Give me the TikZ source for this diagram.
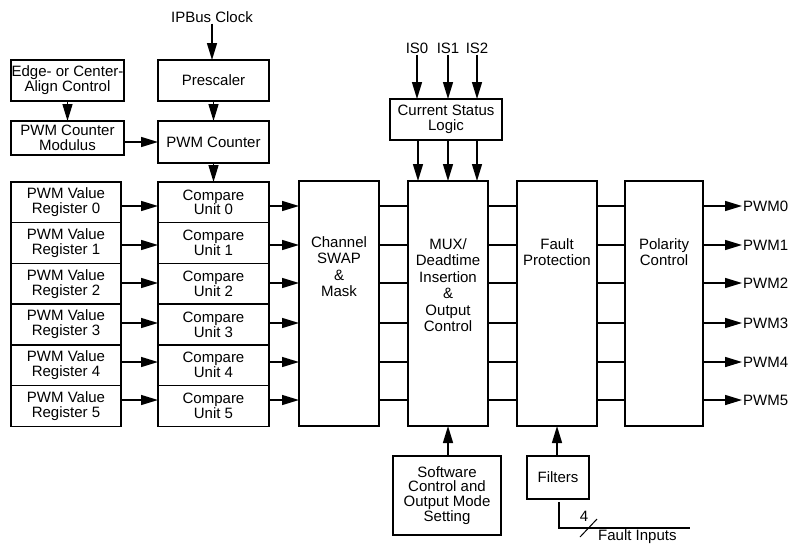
\documentclass[tikz,border=0pt]{standalone}
\usepackage{fontspec}
\setmainfont{Liberation Sans}
\usetikzlibrary{arrows.meta}
\begin{document}
\begin{tikzpicture}[x=1pt,y=-1pt,
  blk/.style={draw,line width=1.4pt,inner sep=0pt,outer sep=0pt,align=center,
    font=\fontsize{15}{14.8}\selectfont},
  txt/.style={inner sep=0pt,align=center,font=\fontsize{15}{16.5}\selectfont},
  lbl/.style={inner sep=1pt,font=\fontsize{15}{15}\selectfont},
  ln/.style={line width=1.4pt},
  arr/.style={line width=1.4pt,-{Triangle[length=17pt,width=10pt]}}]
\useasboundingbox (0,0) rectangle (791,544);

% top-left blocks
\node[blk,minimum width=113pt,minimum height=41pt] (edge) at (67.5,80.5) {Edge- or Center-\\Align Control};
\node[blk,minimum width=113pt,minimum height=34pt] (mod) at (67.5,138) {PWM Counter\\Modulus};
\node[blk,minimum width=111pt,minimum height=41pt] (pre) at (213.5,80.5) {Prescaler};
\node[blk,minimum width=111pt,minimum height=42pt] (cnt) at (213.5,142) {PWM Counter};
\node[lbl] (ipb) at (212,17) {IPBus Clock};

\draw[arr] (edge.south) -- (mod.north);
\draw[arr] (ipb.south) -- (ipb.south |- pre.north);
\draw[arr] (pre.south) -- (cnt.north);
\draw[arr] (mod.east |- cnt) -- (cnt.west);

% channel rows
\foreach \i/\y in {0/206,1/245,2/283,3/323,4/362,5/400}{
  \coordinate (ch\i) at (0,\y);
}
\foreach \i in {0,...,5}{
  \node[blk,minimum width=110pt,minimum height=40.7pt] (r\i) at (66,{202.35+40.7*\i}) {PWM Value\\Register \i};
  \node[blk,minimum width=111pt,minimum height=40.7pt] (c\i) at (213.5,{202.35+40.7*\i}) {Compare\\Unit \i};
}
\draw[arr] (cnt.south) -- (c0.north);

% big blocks
\node[blk,minimum width=80pt,minimum height=245pt] (swap) at (339,303.5) {};
\node[blk,minimum width=80pt,minimum height=245pt] (mux) at (448,303.5) {};
\node[blk,minimum width=80pt,minimum height=245pt] (fault) at (557,303.5) {};
\node[blk,minimum width=78pt,minimum height=245pt] (pol) at (664,303.5) {};
\node[txt] (swapt) at (339,266.5) {Channel\\SWAP\\\&\\Mask};
\node[txt] (muxt) at (448,285) {MUX/\\Deadtime\\Insertion\\\&\\Output\\Control};
\node[txt] (faultt) at (557,252) {Fault\\Protection};
\node[txt] (polt) at (664,252) {Polarity\\Control};

\foreach \i in {0,...,5}{
  \draw[arr] (r\i.east |- ch\i) -- (c\i.west |- ch\i);
  \draw[arr] (c\i.east |- ch\i) -- (swap.west |- ch\i);
  \draw[ln] (swap.east |- ch\i) -- (mux.west |- ch\i);
  \draw[ln] (mux.east |- ch\i) -- (fault.west |- ch\i);
  \draw[ln] (fault.east |- ch\i) -- (pol.west |- ch\i);
  \node[lbl,anchor=west] (o\i) at (742,0 |- ch\i) {PWM\i};
  \draw[arr] (pol.east |- o\i) -- (o\i.west);
}

% current status logic
\node[blk,minimum width=112pt,minimum height=41pt] (csl) at (446,119.5) {Current Status\\Logic};
\node[lbl] (is0) at (417,48) {IS0};
\node[lbl] (is1) at (448,48) {IS1};
\node[lbl] (is2) at (477,48) {IS2};
\draw[arr] (is0.south) -- (is0.south |- csl.north);
\draw[arr] (is1.south) -- (is1.south |- csl.north);
\draw[arr] (is2.south) -- (is2.south |- csl.north);
\draw[arr] (csl.south -| is0) ++(1,0) coordinate (d0) -- (d0 |- mux.north);
\draw[arr] (csl.south -| is1) -- (is1 |- mux.north);
\draw[arr] (csl.south -| is2) -- (is2 |- mux.north);

% bottom blocks
\node[blk,minimum width=108pt,minimum height=79pt] (sw) at (447,495.5) {Software\\Control and\\Output Mode\\Setting};
\node[blk,minimum width=62pt,minimum height=43pt] (filt) at (558,477.5) {Filters};
\draw[arr] (sw.north -| mux) -- (mux.south);
\draw[arr] (filt.north -| fault) -- (fault.south);

\coordinate (fa) at (559,502);
\coordinate (fb) at (559,528);
\coordinate (fc) at (690,528);
\draw[ln] (fa) -- (fb) -- (fc);
\draw[line width=1pt] (580,537) -- (597,519);
\node[lbl] (four) at (584,516) {4};
\node[lbl,anchor=west] (finp) at (597,537) {Fault Inputs};
\end{tikzpicture}
\end{document}
